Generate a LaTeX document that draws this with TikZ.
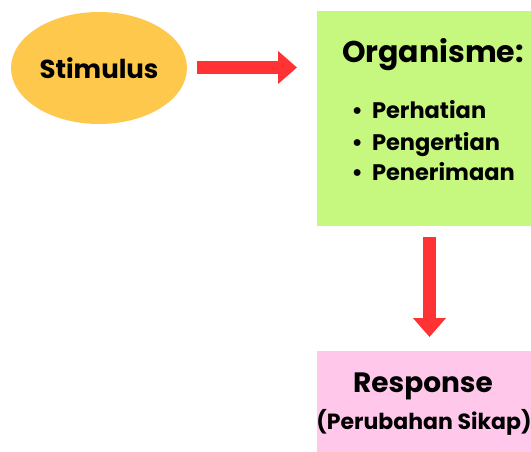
\documentclass[tikz,border=0pt]{standalone}
\usepackage{fontspec}
\setmainfont{Poppins}
\usetikzlibrary{arrows.meta,shapes.geometric}
\definecolor{stimc}{HTML}{FDC84B}
\definecolor{orgc}{HTML}{C6F77F}
\definecolor{respc}{HTML}{FFC8EB}
\definecolor{arrc}{HTML}{FF3333}
\tikzset{
  every node/.style={inner sep=0pt,outer sep=0pt},
  bigarrow/.style={draw=arrc,line width=13.5pt,-{Triangle[length=19pt,width=32pt]}},
  boxa/.style={rectangle,fill=orgc,minimum width=214pt,minimum height=215pt,anchor=north west},
  boxb/.style={rectangle,fill=respc,minimum width=214pt,minimum height=101pt,anchor=north west},
  itemf/.style={font=\bfseries\fontsize{22.5}{26}\selectfont,anchor=base west},
  subf/.style={font=\bfseries\fontsize{22}{26}\selectfont,anchor=base}
}
\newcommand{\itm}[1]{\llap{•\hspace{9pt}}#1}
\begin{document}
\begin{tikzpicture}[x=1pt,y=-1pt]
\useasboundingbox (0,0) rectangle (531,452);
\node[ellipse,fill=stimc,minimum width=176pt,minimum height=112pt,font=\bfseries\fontsize{26}{30}\selectfont] (stim) at (99,68) {Stimulus};
\node[boxa] (org) at (317,11) {};
\node[boxb] (resp) at (317,351) {};
\node[font=\bfseries\fontsize{30}{34}\selectfont,anchor=base] (orgt) at (433,63) {Organisme:};
\node[itemf] (i1) at (372,119) {\itm{Perhatian}};
\node[itemf] (i2) at (372,150) {\itm{Pengertian}};
\node[itemf] (i3) at (372,180) {\itm{Penerimaan}};
\node[font=\bfseries\fontsize{28}{32}\selectfont,anchor=base] (respt) at (423,392) {Response};
\node[subf] (resps) at (424,429) {(Perubahan Sikap)};
\coordinate (a1s) at (197,67.5);
\coordinate (a2s) at (429.5,237);
\draw[bigarrow,shorten >=20pt] (a1s) -- (a1s -| org.west);
\draw[bigarrow,shorten >=14pt] (a2s) -- (a2s |- resp.north);
\end{tikzpicture}
\end{document}
